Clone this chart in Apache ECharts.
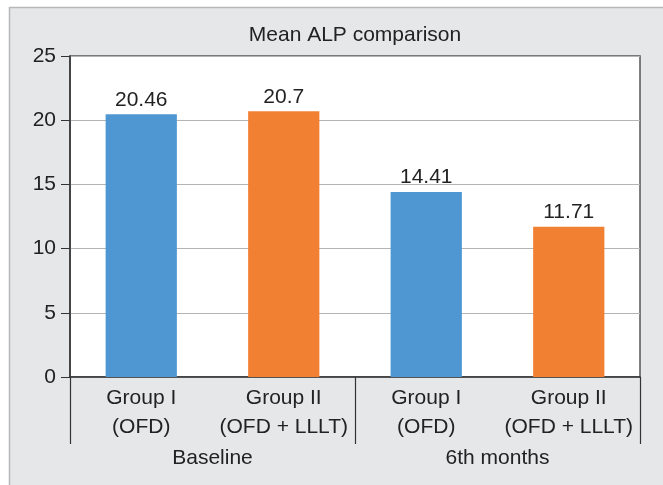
<!DOCTYPE html>
<html>
<head>
<meta charset="utf-8">
<script src="https://cdn.jsdelivr.net/npm/echarts@6/dist/echarts.min.js"></script>
<style>html,body{margin:0;padding:0;background:#fff;}#c{width:663px;height:485px;}</style>
</head>
<body>
<div id="c"></div>
<script>
var categories = ['Group I\n(OFD)', 'Group II\n(OFD + LLLT)', 'Group I\n(OFD)', 'Group II\n(OFD + LLLT)'];
var groups = ['Baseline', '6th months'];
var values = [20.46, 20.7, 14.41, 11.71];
var barColors = ['#4f97d2', '#f18033', '#4f97d2', '#f18033'];
var yTicks = {min: 0, max: 25, interval: 5};
var titleText = 'Mean ALP comparison';

var FONT = "'Liberation Sans', Arial, sans-serif";
var FS = 21;
var chart = echarts.init(document.getElementById('c'));
chart.setOption({
  backgroundColor: '#fff',
  animation: false,
  graphic: [{
    type: 'rect', z: -10, silent: true,
    shape: {x: 9.5, y: 7.5, width: 700, height: 500},
    style: {fill: '#e6e7e9', stroke: '#b8b8b8', lineWidth: 1.5}
  }],
  title: {
    text: titleText, left: 355, top: 25, textAlign: 'center', padding: 0,
    textStyle: {fontFamily: FONT, fontSize: FS, fontWeight: 'normal', color: '#222'}
  },
  grid: {
    left: 70, right: 23, top: 56, bottom: 108,
    show: true, backgroundColor: '#fff', borderColor: '#555', borderWidth: 1.5
  },
  xAxis: [{
    type: 'category', data: categories, position: 'bottom',
    axisLine: {lineStyle: {color: '#333', width: 1.5}},
    axisTick: {show: false},
    axisLabel: {fontFamily: FONT, fontSize: FS, lineHeight: 29, color: '#222', margin: 7, interval: 0}
  }, {
    type: 'category', data: groups, position: 'bottom',
    axisLine: {show: false},
    axisTick: {show: true, length: 67, lineStyle: {color: '#333', width: 1.2}},
    axisLabel: {fontFamily: FONT, fontSize: FS, color: '#222', margin: 71, interval: 0},
    splitLine: {show: false}
  }],
  yAxis: {
    type: 'value', min: yTicks.min, max: yTicks.max, interval: yTicks.interval,
    axisLine: {show: true, lineStyle: {color: '#333', width: 1.5}},
    axisTick: {show: true, length: 9, lineStyle: {color: '#333'}},
    axisLabel: {fontFamily: FONT, fontSize: FS, color: '#222', margin: 14},
    splitLine: {lineStyle: {color: '#b4b4b4', width: 1.2}}
  },
  series: [{
    type: 'bar', xAxisIndex: 0, barWidth: '50%',
    data: values.map(function (v, i) { return {value: v, itemStyle: {color: barColors[i]}}; }),
    label: {show: true, position: 'top', distance: 4, fontFamily: FONT, fontSize: FS, color: '#222'}
  }]
});
</script>
</body>
</html>
